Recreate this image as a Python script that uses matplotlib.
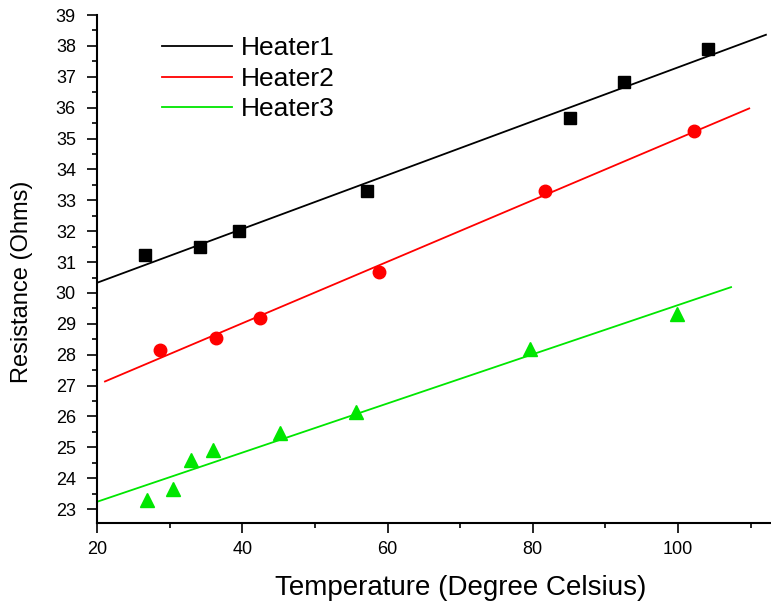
import numpy as np
import matplotlib.pyplot as plt
from matplotlib.ticker import MultipleLocator

plt.rcParams['font.family'] = ['Liberation Sans', 'DejaVu Sans']

# measured points
t1 = [26.6, 34.2, 39.6, 57.2, 85.1, 92.6, 104.1]
r1 = [31.23, 31.49, 32.0, 33.3, 35.66, 36.83, 37.9]
t2 = [28.7, 36.4, 42.5, 58.8, 81.7, 102.2]
r2 = [28.15, 28.54, 29.19, 30.68, 33.3, 35.24]
t3 = [26.9, 30.5, 33.0, 36.0, 45.2, 55.6, 79.6, 99.9]
r3 = [23.29, 23.65, 24.59, 24.91, 25.46, 26.14, 28.18, 29.32]

# x span of each fitted line
fit_range1 = [20, 112.1]
fit_range2 = [21.1, 109.8]
fit_range3 = [20, 107.3]

fig = plt.figure(figsize=(7.71, 6.05), dpi=100, facecolor='white')
ax = fig.add_axes([0.1258, 0.1355, 0.8742, 0.8397])

series = [
    (t1, r1, fit_range1, 'black', 's', 9, 'Heater1'),
    (t2, r2, fit_range2, '#ff0000', 'o', 9, 'Heater2'),
    (t3, r3, fit_range3, '#00e600', '^', 10, 'Heater3'),
]
for t, r, rng, col, mk, ms, name in series:
    k, b = np.polyfit(t, r, 1)
    xs = np.array(rng)
    ax.plot(xs, k * xs + b, color=col, lw=1.3, label=name)
    ax.plot(t, r, linestyle='none', marker=mk, ms=ms, color=col)

ax.set_xlim(20, 112.8)
ax.set_ylim(22.55, 39)
ax.xaxis.set_major_locator(MultipleLocator(20))
ax.xaxis.set_minor_locator(MultipleLocator(10))
ax.yaxis.set_major_locator(MultipleLocator(1))
ax.yaxis.set_minor_locator(MultipleLocator(0.5))
ax.tick_params(which='major', direction='out', length=7.2, width=1.2, labelsize=13)
ax.tick_params(which='minor', direction='out', length=3.6, width=1.2)
ax.tick_params(axis='x', pad=6)
ax.tick_params(axis='y', pad=8)
for s in ['top', 'right']:
    ax.spines[s].set_visible(False)
for s in ['left', 'bottom']:
    ax.spines[s].set_linewidth(1.5)

ax.set_xlabel('Temperature (Degree Celsius)', fontsize=20)
ax.set_ylabel('Resistance (Ohms)', fontsize=17)
ax.xaxis.set_label_coords(0.539, -0.102)
ax.yaxis.set_label_coords(-0.095, 0.474)

ax.legend(loc='upper left', bbox_to_anchor=(0.081, 0.979), borderaxespad=0,
          frameon=False, fontsize=19, handlelength=2.65, handletextpad=0.35,
          labelspacing=0.25)

plt.savefig('out.png', dpi=100)
